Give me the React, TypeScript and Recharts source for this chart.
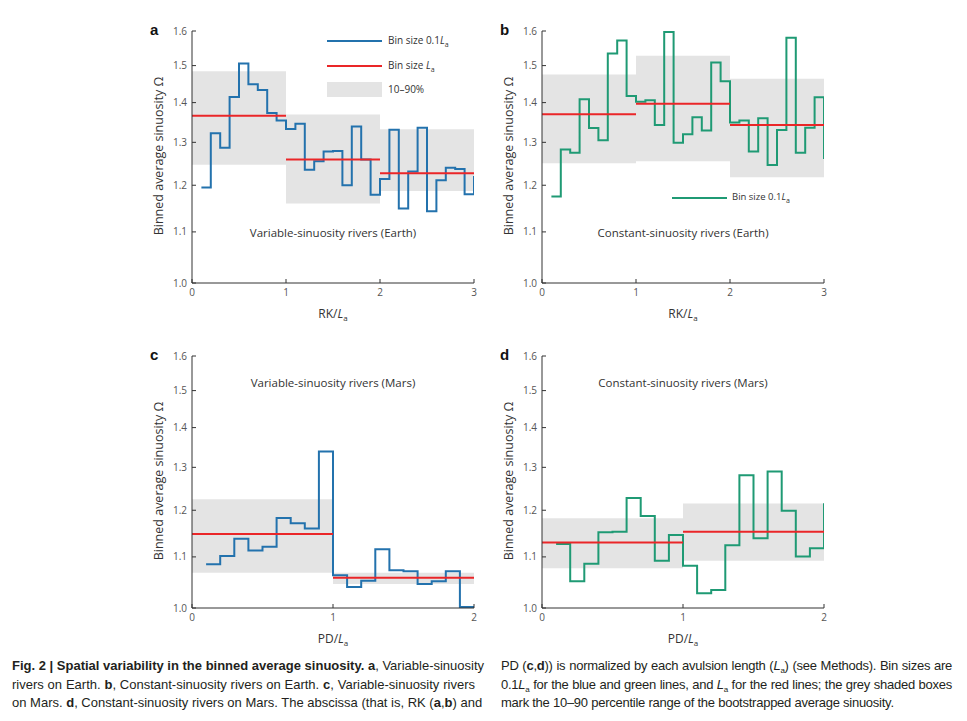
import React from 'react';
import { ComposedChart, Line, XAxis, YAxis, ReferenceArea, Legend } from 'recharts';

// bin start positions (in units of L_a); last entry is the clipped next bin
const binsEarth = [0.1, 0.2, 0.3, 0.4, 0.5, 0.6, 0.7, 0.8, 0.9, 1.0, 1.1, 1.2, 1.3, 1.4, 1.5, 1.6, 1.7, 1.8, 1.9, 2.0, 2.1, 2.2, 2.3, 2.4, 2.5, 2.6, 2.7, 2.8, 2.9, 3.0];
const binsMars = [0.1, 0.2, 0.3, 0.4, 0.5, 0.6, 0.7, 0.8, 0.9, 1.0, 1.1, 1.2, 1.3, 1.4, 1.5, 1.6, 1.7, 1.8, 1.9, 2.0];

// bin size 0.1 L_a
const variableEarth = [1.195, 1.322, 1.287, 1.415, 1.506, 1.449, 1.433, 1.373, 1.354, 1.333, 1.346, 1.235, 1.255, 1.278, 1.279, 1.2, 1.339, 1.259, 1.179, 1.214, 1.331, 1.149, 1.231, 1.336, 1.143, 1.211, 1.24, 1.237, 1.18, 1.221];
const constantEarth = [1.175, 1.283, 1.275, 1.409, 1.335, 1.305, 1.534, 1.572, 1.417, 1.402, 1.406, 1.343, 1.597, 1.299, 1.32, 1.362, 1.329, 1.509, 1.457, 1.349, 1.354, 1.278, 1.36, 1.246, 1.33, 1.58, 1.275, 1.336, 1.414, 1.26];
const variableMars = [1.085, 1.102, 1.138, 1.113, 1.121, 1.183, 1.171, 1.16, 1.339, 1.063, 1.04, 1.052, 1.116, 1.073, 1.071, 1.046, 1.051, 1.071, 1.002, 1.002];
const constantMars = [1.127, 1.051, 1.086, 1.152, 1.153, 1.228, 1.187, 1.092, 1.146, 1.082, 1.028, 1.034, 1.124, 1.281, 1.139, 1.29, 1.199, 1.101, 1.118, 1.216];

// bin size L_a
const meanVariableEarth = [1.366, 1.259, 1.227];
const meanConstantEarth = [1.37, 1.397, 1.343];
const meanVariableMars = [1.148, 1.058];
const meanConstantMars = [1.13, 1.153];

// 10-90 percentile boxes
const lowVariableEarth = [1.247, 1.16, 1.187];
const highVariableEarth = [1.484, 1.369, 1.332];
const lowConstantEarth = [1.25, 1.255, 1.218];
const highConstantEarth = [1.475, 1.528, 1.464];
const lowVariableMars = [1.068, 1.046];
const highVariableMars = [1.225, 1.068];
const lowConstantMars = [1.077, 1.092];
const highConstantMars = [1.182, 1.215];

const yTicks = [1.0, 1.1, 1.2, 1.3, 1.4, 1.5, 1.6];
const earthTicks = [0, 1, 2, 3];
const marsTicks = [0, 1, 2];

const BLUE = '#2372ad';
const GREEN = '#1f9a74';
const RED = '#ea2628';
const GREY = '#e4e4e4';
const AXIS = '#333';

const W = 350;
const H = 315;
const FONT = '"Open Sans", Roboto, sans-serif';

const La = ({ size = 8 }: { size?: number }) => (
  <>
    <tspan fontStyle="italic">L</tspan>
    <tspan fontSize={size} dy={3}>a</tspan>
  </>
);

const LaHtml = ({ size = 7 }: { size?: number }) => (
  <>
    <i>L</i>
    <span style={{ fontSize: size, position: 'relative', top: 3 }}>a</span>
  </>
);

function LegendA() {
  return (
    <div style={{ position: 'relative', width: 160, height: 80, fontFamily: FONT, fontSize: 10, color: '#333' }}>
      <div style={{ position: 'absolute', left: 0, top: 9, width: 55, height: 2, background: BLUE }} />
      <div style={{ position: 'absolute', left: 61, top: 2, whiteSpace: 'nowrap' }}>Bin size 0.1<LaHtml /></div>
      <div style={{ position: 'absolute', left: 0, top: 34, width: 55, height: 2, background: RED }} />
      <div style={{ position: 'absolute', left: 61, top: 27, whiteSpace: 'nowrap' }}>Bin size <LaHtml /></div>
      <div style={{ position: 'absolute', left: 0, top: 51, width: 55, height: 15, background: GREY }} />
      <div style={{ position: 'absolute', left: 61, top: 51, whiteSpace: 'nowrap' }}>10–90%</div>
    </div>
  );
}

function LegendB() {
  return (
    <div style={{ position: 'relative', width: 130, height: 20, fontFamily: FONT, fontSize: 9.5, color: '#333' }}>
      <div style={{ position: 'absolute', left: 0, top: 9, width: 55, height: 2, background: GREEN }} />
      <div style={{ position: 'absolute', left: 60, top: 2, whiteSpace: 'nowrap' }}>Bin size 0.1<LaHtml /></div>
    </div>
  );
}

type PanelProps = {
  left: number;
  top: number;
  letter: string;
  bins: number[];
  values: number[];
  color: string;
  means: number[];
  low: number[];
  high: number[];
  ticks: number[];
  title: string;
  titleY: number;
  xName: string;
  legend?: 'a' | 'b';
};

function Panel({ left, top, letter, bins, values, color, means, low, high, ticks, title, titleY, xName, legend }: PanelProps) {
  const stepData = bins.map((x, i) => ({ x, y: values[i] }));
  const meanData = means.flatMap((v, i) => [
    { x: i, y: v },
    { x: i + 1, y: v },
    { x: i + 1, y: null },
  ]);
  const xMax = ticks[ticks.length - 1];

  return (
    <div style={{ position: 'absolute', left, top, width: W, height: H, fontFamily: FONT }}>
      <ComposedChart width={W} height={H} margin={{ top: 21, right: 16, bottom: 12, left: 12 }}>
        <XAxis
          type="number"
          dataKey="x"
          domain={[0, xMax]}
          ticks={ticks}
          allowDataOverflow
          height={30}
          stroke={AXIS}
          tickSize={-4}
          tickMargin={10}
          tick={{ fill: '#555', fontSize: 10 }}
          label={(p: any) => {
            const vb = p.viewBox || {};
            return (
              <text x={vb.x + vb.width / 2} y={vb.y + 35} textAnchor="middle" fontSize={12} fill="#333">
                {xName}/<La />
              </text>
            );
          }}
        />
        <YAxis
          type="number"
          scale="log"
          domain={[1, 1.6]}
          ticks={yTicks}
          allowDataOverflow
          width={40}
          stroke={AXIS}
          tickSize={-4}
          tickMargin={9}
          tick={{ fill: '#555', fontSize: 10 }}
          tickFormatter={(v: number) => v.toFixed(1)}
          label={(p: any) => {
            const vb = p.viewBox || {};
            const cx = vb.x + 6;
            const cy = vb.y + vb.height / 2 - 1;
            return (
              <text
                x={cx}
                y={cy}
                transform={`rotate(-90 ${cx} ${cy})`}
                textAnchor="middle"
                dominantBaseline="central"
                fontSize={12.5}
                fill="#333"
              >
                Binned average sinuosity Ω
              </text>
            );
          }}
        />
        {low.map((lo, i) => (
          <ReferenceArea key={i} x1={i} x2={i + 1} y1={lo} y2={high[i]} fill={GREY} fillOpacity={1} stroke="none" />
        ))}
        <Line
          data={stepData}
          dataKey="y"
          type="stepAfter"
          stroke={color}
          strokeWidth={2}
          dot={false}
          activeDot={false}
          isAnimationActive={false}
        />
        <Line
          data={meanData}
          dataKey="y"
          type="linear"
          stroke={RED}
          strokeWidth={2}
          dot={false}
          activeDot={false}
          connectNulls={false}
          isAnimationActive={false}
        />
        {legend && (
          <Legend
            layout="horizontal"
            verticalAlign="middle"
            align="center"
            content={legend === 'a' ? <LegendA /> : <LegendB />}
            wrapperStyle={
              legend === 'a'
                ? { left: 187, top: 21, width: 160, height: 80 }
                : { left: 182, top: 178, width: 130, height: 20 }
            }
          />
        )}
      </ComposedChart>
      <div style={{ position: 'absolute', left: 10, top: 12, fontSize: 15, fontWeight: 'bold', color: '#111', lineHeight: '15px', fontFamily: 'Arial, sans-serif' }}>
        {letter}
      </div>
      <div style={{ position: 'absolute', left: 43, width: 300, top: titleY - 8, textAlign: 'center', fontSize: 11.5, color: '#333', lineHeight: '16px' }}>
        {title}
      </div>
    </div>
  );
}

const capLine = (justify: boolean): React.CSSProperties => ({
  whiteSpace: 'nowrap',
  height: 18.5,
  lineHeight: '18.5px',
  textAlign: justify ? 'justify' : 'left',
  textAlignLast: justify ? 'justify' : 'left',
});

function Caption() {
  const col: React.CSSProperties = {
    position: 'absolute',
    top: 657,
    fontFamily: '"Liberation Sans Narrow", "Arial Narrow", sans-serif',
    fontSize: 13,
    color: '#231f20',
  };
  return (
    <>
      <div style={{ ...col, left: 12, width: 463 }}>
        <div style={capLine(true)}>
          <b>Fig. 2 | Spatial variability in the binned average sinuosity. a</b>, Variable-sinuosity
        </div>
        <div style={capLine(true)}>
          rivers on Earth. <b>b</b>, Constant-sinuosity rivers on Earth. <b>c</b>, Variable-sinuosity rivers
        </div>
        <div style={capLine(true)}>
          on Mars. <b>d</b>, Constant-sinuosity rivers on Mars. The abscissa (that is, RK (<b>a</b>,<b>b</b>) and
        </div>
      </div>
      <div style={{ ...col, left: 501, width: 451, letterSpacing: -0.25 }}>
        <div style={capLine(true)}>
          PD (<b>c</b>,<b>d</b>)) is normalized by each avulsion length (<LaHtml size={8} />) (see Methods). Bin sizes are
        </div>
        <div style={capLine(true)}>
          0.1<LaHtml size={8} /> for the blue and green lines, and <LaHtml size={8} /> for the red lines; the grey shaded boxes
        </div>
        <div style={capLine(false)}>
          mark the 10–90 percentile range of the bootstrapped average sinuosity.
        </div>
      </div>
    </>
  );
}

export default function App() {
  return (
    <div style={{ position: 'absolute', left: 0, top: 0, width: 967, height: 721, background: '#fff' }}>
      <Panel
        left={140}
        top={10}
        letter="a"
        bins={binsEarth}
        values={variableEarth}
        color={BLUE}
        means={meanVariableEarth}
        low={lowVariableEarth}
        high={highVariableEarth}
        ticks={earthTicks}
        title="Variable-sinuosity rivers (Earth)"
        titleY={223}
        xName="RK"
        legend="a"
      />
      <Panel
        left={490}
        top={10}
        letter="b"
        bins={binsEarth}
        values={constantEarth}
        color={GREEN}
        means={meanConstantEarth}
        low={lowConstantEarth}
        high={highConstantEarth}
        ticks={earthTicks}
        title="Constant-sinuosity rivers (Earth)"
        titleY={223}
        xName="RK"
        legend="b"
      />
      <Panel
        left={140}
        top={335}
        letter="c"
        bins={binsMars}
        values={variableMars}
        color={BLUE}
        means={meanVariableMars}
        low={lowVariableMars}
        high={highVariableMars}
        ticks={marsTicks}
        title="Variable-sinuosity rivers (Mars)"
        titleY={48}
        xName="PD"
      />
      <Panel
        left={490}
        top={335}
        letter="d"
        bins={binsMars}
        values={constantMars}
        color={GREEN}
        means={meanConstantMars}
        low={lowConstantMars}
        high={highConstantMars}
        ticks={marsTicks}
        title="Constant-sinuosity rivers (Mars)"
        titleY={48}
        xName="PD"
      />
      <Caption />
    </div>
  );
}
